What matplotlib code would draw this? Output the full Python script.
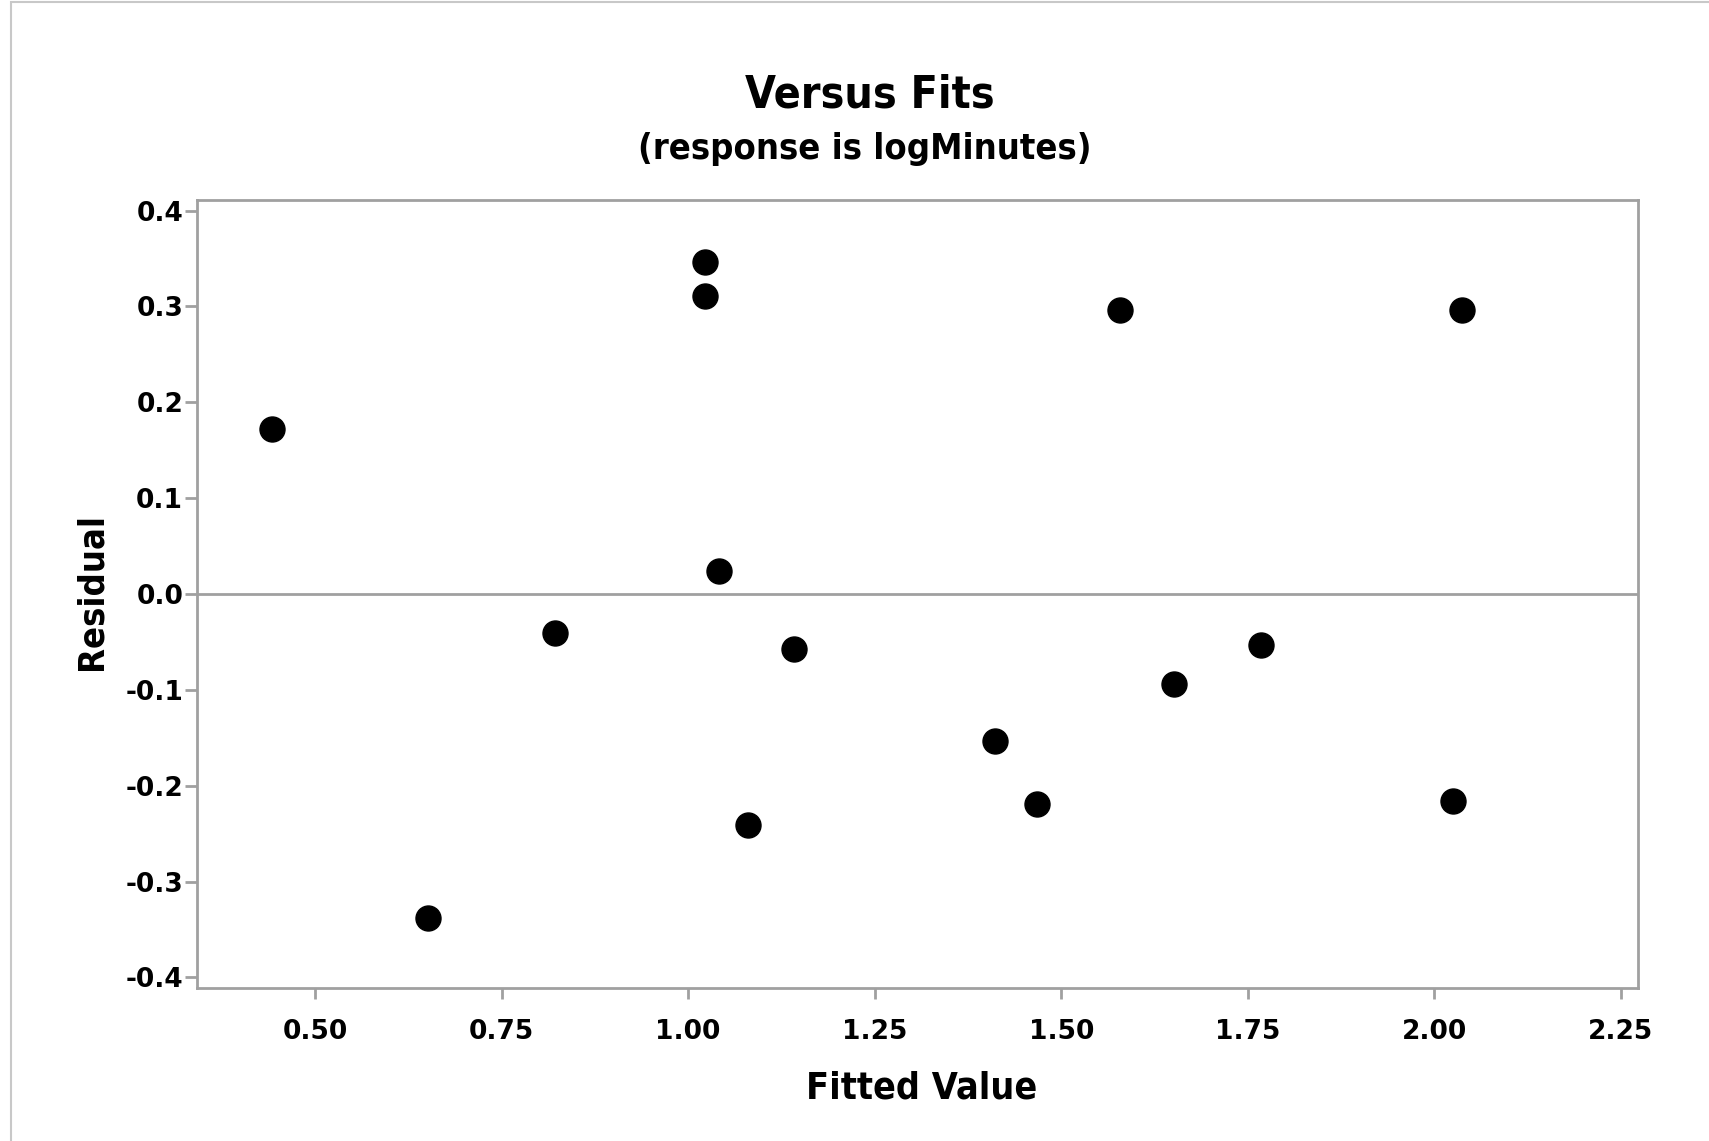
import matplotlib
matplotlib.use('Agg')
import matplotlib.pyplot as plt
from matplotlib.patches import Rectangle

# residuals vs fitted values (response is logMinutes)
fitted = [0.442, 0.652, 0.822, 1.023, 1.023, 1.041, 1.080, 1.142,
          1.411, 1.468, 1.579, 1.651, 1.768, 2.025, 2.037]
residual = [0.172, -0.338, -0.041, 0.346, 0.311, 0.024, -0.241, -0.057,
            -0.153, -0.219, 0.296, -0.094, -0.053, -0.216, 0.296]

x_ticks = [0.50, 0.75, 1.00, 1.25, 1.50, 1.75, 2.00, 2.25]
x_labels = ['0.50', '0.75', '1.00', '1.25', '1.50', '1.75', '2.00', '2.25']
y_ticks = [-0.4, -0.3, -0.2, -0.1, 0.0, 0.1, 0.2, 0.3, 0.4]
y_labels = ['-0.4', '-0.3', '-0.2', '-0.1', '0.0', '0.1', '0.2', '0.3', '0.4']

plt.rcParams['font.family'] = ['DejaVu Sans']
plt.rcParams['font.stretch'] = 'condensed'
plt.rcParams['font.weight'] = 'bold'

grey = '#a0a0a0'

fig = plt.figure(figsize=(17.09, 11.41), dpi=100)

# light frame around the graph window
fig.patches.append(Rectangle((0.0065, -0.01), 1.2, 1.008, transform=fig.transFigure,
                             fill=False, edgecolor='#c8c8c8', linewidth=1.5))

ax = fig.add_axes([0.1153, 0.1341, 0.8432, 0.6906])
ax.plot(fitted, residual, 'o', color='black', markersize=18, zorder=3)
ax.axhline(0, color=grey, linewidth=2, zorder=2)

ax.set_xlim(0.342, 2.273)
ax.set_ylim(-0.411, 0.411)
ax.set_xticks(x_ticks)
ax.set_xticklabels(x_labels, fontstretch='normal')
ax.set_yticks(y_ticks)
ax.set_yticklabels(y_labels, fontstretch='normal')

for s in ax.spines.values():
    s.set_color(grey)
    s.set_linewidth(2)
ax.tick_params(axis='x', length=8, width=2, color=grey, pad=14, labelsize=19)
ax.tick_params(axis='y', length=9, width=2, color=grey, pad=1, labelsize=19)

fig.text(0.509, 0.917, 'Versus Fits', ha='center', va='center',
         fontsize=32, fontweight='bold')
fig.text(0.506, 0.869, '(response is logMinutes)', ha='center', va='center',
         fontsize=26, fontweight='bold')
fig.text(0.5395, 0.0456, 'Fitted Value', ha='center', va='center',
         fontsize=27, fontweight='bold')
fig.text(0.0536, 0.482, 'Residual', ha='center', va='center', rotation=90,
         fontsize=26, fontweight='bold')

fig.savefig('out.png', dpi=100)
plt.close(fig)
